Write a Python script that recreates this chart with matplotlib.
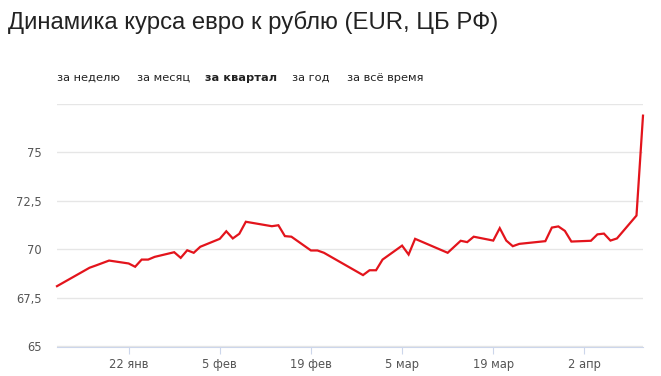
import matplotlib
matplotlib.use('Agg')
import matplotlib.pyplot as plt
import pandas as pd

# курс евро ЦБ РФ, янв-апр 2018
dates = ['2018-01-11', '2018-01-16', '2018-01-17', '2018-01-19', '2018-01-22',
         '2018-01-23', '2018-01-24', '2018-01-25', '2018-01-26', '2018-01-29',
         '2018-01-30', '2018-01-31', '2018-02-01', '2018-02-02', '2018-02-05',
         '2018-02-06', '2018-02-07', '2018-02-08', '2018-02-09', '2018-02-13',
         '2018-02-14', '2018-02-15', '2018-02-16', '2018-02-19', '2018-02-20',
         '2018-02-21', '2018-02-27', '2018-02-28', '2018-03-01', '2018-03-02',
         '2018-03-05', '2018-03-06', '2018-03-07', '2018-03-12', '2018-03-14',
         '2018-03-15', '2018-03-16', '2018-03-19', '2018-03-20', '2018-03-21',
         '2018-03-22', '2018-03-23', '2018-03-27', '2018-03-28', '2018-03-29',
         '2018-03-30', '2018-03-31', '2018-04-03', '2018-04-04', '2018-04-05',
         '2018-04-06', '2018-04-07', '2018-04-10', '2018-04-11']
eur = [68.11, 69.06, 69.18, 69.43, 69.28,
       69.11, 69.48, 69.48, 69.62, 69.86,
       69.57, 69.96, 69.83, 70.14, 70.55,
       70.94, 70.57, 70.81, 71.43, 71.20,
       71.25, 70.69, 70.66, 69.95, 69.95,
       69.83, 68.68, 68.93, 68.93, 69.48,
       70.20, 69.74, 70.55, 69.83, 70.45,
       70.38, 70.66, 70.46, 71.10, 70.46,
       70.17, 70.29, 70.43, 71.13, 71.19,
       70.96, 70.41, 70.45, 70.78, 70.82,
       70.46, 70.57, 71.75, 76.90]

yticks = [65, 67.5, 70, 72.5, 75, 77.5]
ylabels = ['65', '67,5', '70', '72,5', '75', '']
xtick_dates = ['2018-01-22', '2018-02-05', '2018-02-19', '2018-03-05', '2018-03-19', '2018-04-02']
xlabels = ['22 янв', '5 фев', '19 фев', '5 мар', '19 мар', '2 апр']
tabs = ['за неделю', 'за месяц', 'за квартал', 'за год', 'за всё время']
tab_x = [57, 137, 205, 292, 347]

x = pd.to_datetime(dates)

fig = plt.figure(figsize=(6.61, 3.76), dpi=100)
ax = fig.add_axes([57/661, 1-346.5/376, (643-57)/661, (346.5-104)/376])

ax.plot(x, eur, color='#e3141c', lw=1.6, solid_joinstyle='miter', clip_on=False)

ax.set_xlim(x[0], x[-1])
ax.set_ylim(65, 77.5)
ax.set_yticks(yticks)
ax.set_yticklabels(ylabels)
ax.set_xticks(pd.to_datetime(xtick_dates))
ax.set_xticklabels(xlabels)
ax.grid(axis='y', color='#e6e6e6', lw=1)
ax.set_axisbelow(True)
for s in ['top', 'right', 'left']:
    ax.spines[s].set_visible(False)
ax.spines['bottom'].set_color('#ccd6eb')
ax.tick_params(axis='y', length=0, pad=11, labelsize=8.3, labelcolor='#555555')
ax.tick_params(axis='x', length=5, color='#ccd6eb', pad=3, labelsize=8.3, labelcolor='#555555')

fig.text(8/661, 1-22/376, 'Динамика курса евро к рублю (EUR, ЦБ РФ)',
         fontsize=17.2, color='#222222', va='center', family='Liberation Sans')
for t, tx in zip(tabs, tab_x):
    fig.text(tx/661, 1-78/376, t, fontsize=8.2, color='#222222', va='center',
             fontweight='bold' if t == 'за квартал' else 'normal')

fig.savefig('out.png', dpi=100)
